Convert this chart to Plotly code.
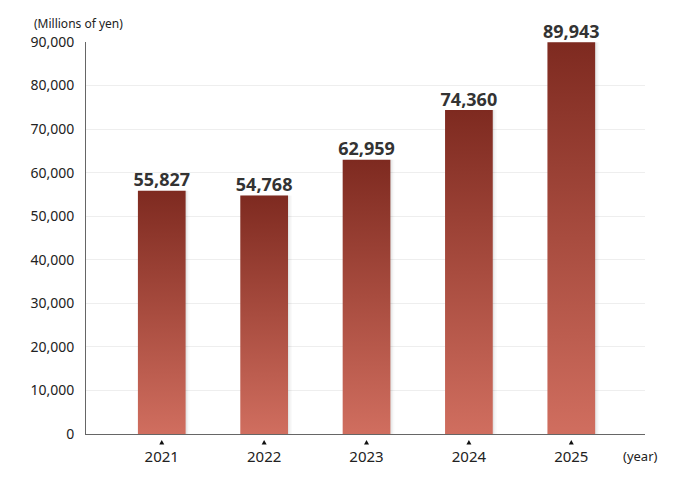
import plotly.graph_objects as go

years = ["2021", "2022", "2023", "2024", "2025"]
sales = [55827, 54768, 62959, 74360, 89943]
y_ticks = [0, 10000, 20000, 30000, 40000, 50000, 60000, 70000, 80000, 90000]

FONT = "Noto Sans"
BAR_W = 0.466
Y_MAX = 90000
W, H = 680, 469           # page body adds an 8px offset, so the figure is 8px smaller than the window
M_L, M_R, M_T, M_B = 78, 43, 34, 43
x_pos = list(range(len(years)))

fig = go.Figure()

# soft shadow on the right side of each bar
for i, v in enumerate(sales):
    for off, a in [(0.012, 0.05), (0.025, 0.035), (0.04, 0.02)]:
        x0, x1 = i - BAR_W / 2 + off, i + BAR_W / 2 + off
        fig.add_trace(go.Scatter(
            x=[x0, x1, x1, x0, x0], y=[0, 0, v, v, 0],
            fill="toself", mode="lines", line=dict(width=0),
            fillcolor=f"rgba(0,0,0,{a})", hoverinfo="skip", showlegend=False))

# bars with vertical gradient (light bottom -> dark top)
for i, v in enumerate(sales):
    x0, x1 = i - BAR_W / 2, i + BAR_W / 2
    fig.add_trace(go.Scatter(
        x=[x0, x1, x1, x0, x0], y=[0, 0, v, v, 0],
        fill="toself", mode="lines", line=dict(width=0),
        fillgradient=dict(type="vertical",
                          colorscale=[[0, "#d06e5f"], [0.5, "#a84c3f"], [1, "#7e2a20"]]),
        name=years[i], hovertemplate=f"{years[i]}: {v:,}<extra></extra>",
        showlegend=False))

# value labels
fig.add_trace(go.Scatter(
    x=x_pos, y=sales, mode="text",
    text=[f"<b>{v:,}</b>" for v in sales], textposition="top center",
    textfont=dict(family=FONT, size=18, color="#333333"),
    hoverinfo="skip", showlegend=False, cliponaxis=False))

# small tick triangles just under the axis (pixel-sized, anchored at each category)
for i in x_pos:
    fig.add_shape(type="path", xref="x", yref="paper",
                  xsizemode="pixel", ysizemode="pixel", xanchor=i, yanchor=0,
                  path="M-2.5,-10.5 L2.5,-10.5 L0,-6 Z",
                  fillcolor="#111111", line=dict(width=0), layer="above")

fig.add_annotation(x=0, y=1, xref="paper", yref="paper", xanchor="left", yanchor="middle",
                   xshift=-54, yshift=19,
                   text="(Millions of yen)", showarrow=False,
                   font=dict(family=FONT, size=12, color="#222222"))
fig.add_annotation(x=1, y=0, xref="paper", yref="paper", xanchor="left", yanchor="middle",
                   xshift=-24, yshift=-22,
                   text="(year)", showarrow=False,
                   font=dict(family=FONT, size=13, color="#222222"))

fig.update_layout(
    width=W, height=H,
    margin=dict(l=M_L, r=M_R, t=M_T, b=M_B),
    paper_bgcolor="white", plot_bgcolor="white",
    font=dict(family=FONT, color="#222222"),
    xaxis=dict(range=[-0.74, 4.72], tickvals=x_pos, ticktext=years,
               showgrid=False, zeroline=False, showline=True, linecolor="#666666",
               linewidth=1, ticks="", ticklabelstandoff=9,
               tickfont=dict(family=FONT, size=15, color="#222222")),
    yaxis=dict(range=[0, Y_MAX], tickvals=y_ticks,
               ticktext=[f"{t:,}" for t in y_ticks],
               showgrid=True, gridcolor="#eeeeee", gridwidth=1, zeroline=False,
               showline=True, linecolor="#666666", linewidth=1, ticks="",
               ticklabelstandoff=8,
               tickfont=dict(family=FONT, size=14, color="#222222")),
)

fig.write_html("out.html")
